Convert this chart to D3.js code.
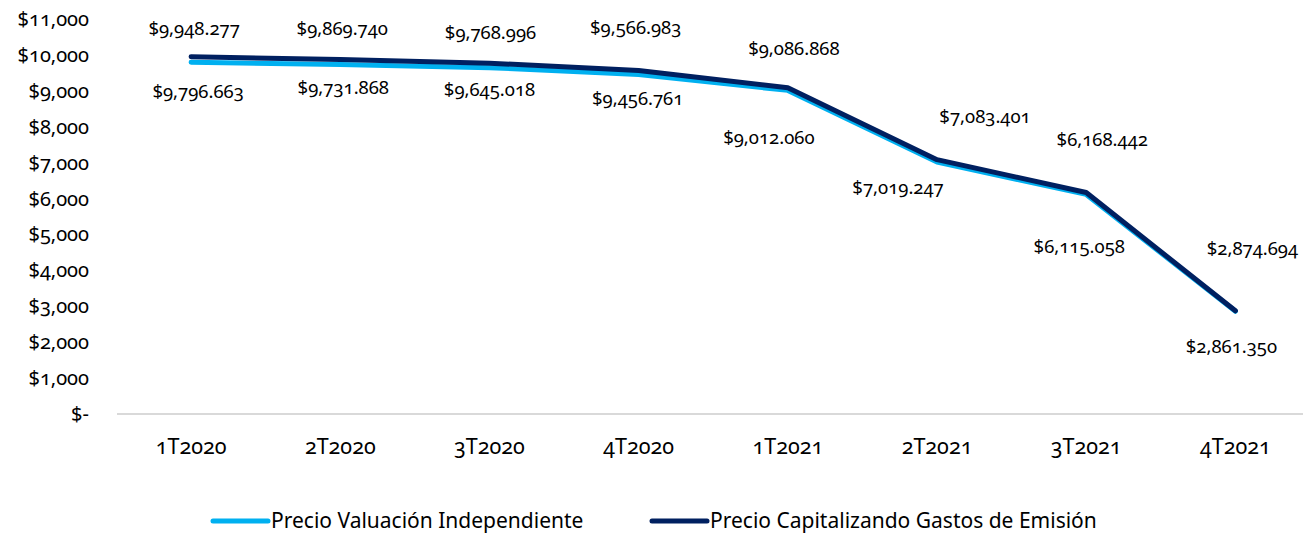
<!DOCTYPE html>
<html><head><meta charset="utf-8">
<script src="https://cdn.jsdelivr.net/npm/d3@7"></script>
<style>body{margin:0;background:#fff} .num{font-variant-numeric:oldstyle-nums;font-feature-settings:"onum" 1}</style>
</head><body>
<svg id="c" width="1303" height="533"></svg>
<script>
const categories = ["1T2020","2T2020","3T2020","4T2020","1T2021","2T2021","3T2021","4T2021"];
const valuacion = [9796.663, 9731.868, 9645.018, 9456.761, 9012.060, 7019.247, 6115.058, 2861.350];
const capitalizando = [9948.277, 9869.740, 9768.996, 9566.983, 9086.868, 7083.401, 6168.442, 2874.694];
const yTicks = [0,1000,2000,3000,4000,5000,6000,7000,8000,9000,10000,11000];
const seriesNames = ["Precio Valuación Independiente","Precio Capitalizando Gastos de Emisión"];
const colors = ["#00B0F0","#002060"];
// label placement tweaks (pixel offsets from point), matching the reference's manual placement
const labelOffsetsCap = [[3,-28],[2,-31],[1,-31],[-3,-43],[6,-39],[48,-43],[16,-53],[17,-62]];
const labelOffsetsVal = [[7,29],[3,22.5],[0,21.5],[-1,24.6],[-19,47.6],[-39,26],[-7,52.6],[-4,35.7]];

const svg = d3.select("#c");
const font = "'Noto Sans', 'Open Sans', sans-serif";
const x = d3.scaleBand().domain(categories).range([116.5, 1310]);
const y = d3.scaleLinear().domain([0, 11000]).range([414, 19]);
const cx = c => x(c) + x.bandwidth()/2;

// y axis labels
const fmt = v => v === 0 ? "$-" : "$" + d3.format(",")(v);
svg.append("g").selectAll("text").data(yTicks).join("text")
  .attr("class", "num")
  .attr("x", 89).attr("y", d => y(d)).attr("dy", "0.35em")
  .attr("text-anchor", "end").attr("font-family", font).attr("font-size", 20).attr("fill", "#000")
  .text(fmt);

// baseline
svg.append("line").attr("x1", 117).attr("x2", 1303).attr("y1", y(0)).attr("y2", y(0))
  .attr("stroke", "#d9d9d9").attr("stroke-width", 2);

// x labels
svg.append("g").selectAll("text").data(categories).join("text")
  .attr("class", "num")
  .attr("x", d => cx(d)).attr("y", 446).attr("dy", "0.35em")
  .attr("text-anchor", "middle").attr("font-family", font).attr("font-size", 21.5).attr("fill", "#000")
  .text(d => d);

const line = d3.line().x((d,i) => cx(categories[i])).y(d => y(d));
[valuacion, capitalizando].forEach((s, k) => {
  svg.append("path").datum(s).attr("d", line).attr("fill", "none")
    .attr("stroke", colors[k]).attr("stroke-width", 5)
    .attr("stroke-linecap", "round").attr("stroke-linejoin", "round");
});

const lblFmt = v => {
  const s = v.toFixed(3).split(".");
  return "$" + d3.format(",")(+s[0]) + "." + s[1];
};
function labels(s, offs) {
  svg.append("g").selectAll("text").data(s).join("text")
    .attr("class", "num")
    .attr("x", (d,i) => cx(categories[i]) + offs[i][0])
    .attr("y", (d,i) => y(d) + offs[i][1]).attr("dy", "0.35em")
    .attr("text-anchor", "middle").attr("font-family", font).attr("font-size", 18.5).attr("fill", "#000")
    .text(lblFmt);
}
labels(capitalizando, labelOffsetsCap);
labels(valuacion, labelOffsetsVal);

// legend
const legX = [213, 652];
const lg = svg.append("g").selectAll("g").data(seriesNames).join("g")
  .attr("transform", (d,i) => `translate(${legX[i]},521)`);
lg.append("line").attr("x1", 0).attr("x2", 55).attr("stroke", (d,i) => colors[i])
  .attr("stroke-width", 5).attr("stroke-linecap", "round");
lg.append("text").attr("x", 58).attr("dy", "0.35em").attr("font-family", font)
  .attr("font-size", 21).attr("fill", "#000").text(d => d);
</script>
</body></html>
